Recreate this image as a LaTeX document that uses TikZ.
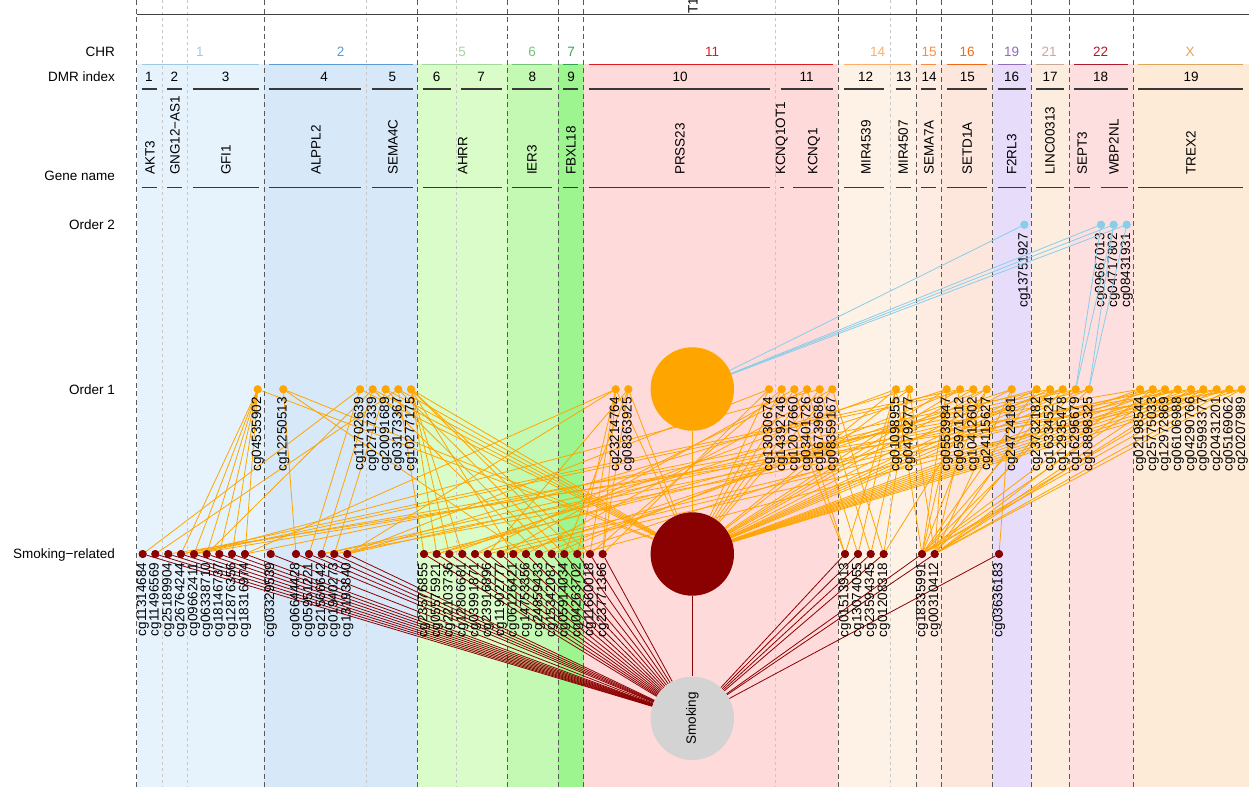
\documentclass[tikz,border=0pt]{standalone}
\usepackage{fontspec}
\setmainfont{Liberation Sans}
\definecolor{orgc}{HTML}{FFA500}
\definecolor{drk}{HTML}{8B0000}
\definecolor{skyc}{HTML}{87CEEB}
\definecolor{smk}{HTML}{D3D3D3}
\definecolor{b1}{HTML}{E6F3FD}
\definecolor{b2}{HTML}{D7E8F8}
\definecolor{b5}{HTML}{D9FCC9}
\definecolor{b6}{HTML}{C3F9B2}
\definecolor{b7}{HTML}{9DF590}
\definecolor{b11}{HTML}{FFDADA}
\definecolor{b14}{HTML}{FEF1E6}
\definecolor{b15}{HTML}{FEECE2}
\definecolor{b16}{HTML}{FDE7DD}
\definecolor{b19}{HTML}{E7DDFB}
\definecolor{b21}{HTML}{FDEDDF}
\definecolor{b22}{HTML}{FDDFDF}
\definecolor{bX}{HTML}{FDEBD8}
\definecolor{c1}{HTML}{9ECAE1}
\definecolor{c2}{HTML}{5B9BD5}
\definecolor{c5}{HTML}{A1D99B}
\definecolor{c6}{HTML}{74C476}
\definecolor{c7}{HTML}{31A354}
\definecolor{c11}{HTML}{E31A1C}
\definecolor{c14}{HTML}{FDAE6B}
\definecolor{c15}{HTML}{FD8D3C}
\definecolor{c16}{HTML}{F16913}
\definecolor{c19}{HTML}{8E6CC0}
\definecolor{c21}{HTML}{C9A99A}
\definecolor{c22}{HTML}{B2182B}
\definecolor{cX}{HTML}{E0A45A}
\begin{document}
\begin{tikzpicture}[x=1pt,y=-1pt,
  every node/.style={font=\fontsize{13.5}{16}\selectfont, inner sep=0pt},
  darkdash/.style={draw=black!65, line width=0.9pt, dash pattern=on 5pt off 3.5pt},
  lightdash/.style={draw=black!22, line width=0.7pt, dash pattern=on 3pt off 3pt},
  dmrline/.style={draw=black!78, line width=1.4pt},
  o1dot/.style={circle, fill=orgc, minimum size=8pt},
  srdot/.style={circle, fill=drk, minimum size=8pt},
  o2dot/.style={circle, fill=skyc, minimum size=8pt},
  plab/.style={rotate=90, anchor=east},
  glab/.style={rotate=90, anchor=west},
  oedge/.style={draw=orgc, line width=0.8pt},
  redge/.style={draw=drk, line width=0.8pt},
  bedge/.style={draw=skyc, line width=0.8pt},
  hub/.style={circle, minimum size=83.4pt}]
\useasboundingbox (0,0) rectangle (1249,787);
\fill[white] (0,0) rectangle (1249,787);
% chromosome bands
\foreach \xa/\xb/\c in {136.7/264.3/b1,264.3/417.3/b2,417.3/507/b5,507/558/b6,558/583.7/b7,583.7/838.3/b11,838.3/916/b14,916/941/b15,941/992.7/b16,992.7/1031/b19,1031/1069.3/b21,1069.3/1133.3/b22,1133.3/1249/bX}
  \fill[\c] (\xa,64) rectangle (\xb,787);
% grid lines
\foreach \x in {162.7,187.7,366.7,456,775.7,890.7}
  \draw[lightdash] (\x,0) -- (\x,787);
\foreach \x in {136.7,264.3,417.3,507,558,583.7,838.3,916,941,992.7,1031,1069.3,1133.3}
  \draw[darkdash] (\x,0) -- (\x,787);
\draw[draw=black!75, line width=1.3pt] (136.7,14.7) -- (1249,14.7);
\node[rotate=90] (toplab) at (693,5.5) {T1};
% row labels
\node[anchor=base east] (rchr) at (115,56.8) {CHR};
\node[anchor=base east] (rdmr) at (115,81.8) {DMR index};
\node[anchor=base east] (rgene) at (115,180.8) {Gene name};
\node[anchor=base east] (ro2) at (115,229.8) {Order 2};
\node[anchor=base east] (ro1) at (115,394.8) {Order 1};
\node[anchor=base east] (rsr) at (115,558.8) {Smoking−related};
% CHR labels
\foreach \x/\t/\c/\xa/\xb in {200/1/c1/141.7/258.7,340.7/2/c2/269/412.7,462/5/c5/421.7/501.7,532/6/c6/511.7/552,571/7/c7/563/578,712/11/c11/589/833,877.7/14/c14/844/911,929/15/c15/921/936,967/16/c16/946.7/987,1011.7/19/c19/997.7/1026,1049/21/c21/1036/1064,1100.7/22/c22/1074/1127.7,1190/X/cX/1138/1242.7}{
  \node[anchor=base, text=\c] at (\x,56.8) {\t};
  \draw[draw=\c, line width=1pt] (\xa,64) -- (\xb,64);
}
% DMR index
\foreach \x/\n in {149/1,174.3/2,225.7/3,324/4,392.3/5,436.7/6,481/7,532.3/8,571/9,680/10,806.7/11,865.7/12,903.7/13,929/14,967.3/15,1011.7/16,1050/17,1100.7/18,1191/19}
  \node[anchor=base] at (\x,81.8) {\n};
\foreach \xa/\xb in {141.7/156.7,167.3/182,192.7/258.7,269/361,371.7/412.7,422.7/450.7,461/501.7,511.7/552,563.3/578.3,589/770,780.7/833,844/884.3,895.7/911,921/936,946.7/987,997.7/1026,1036/1064,1074/1127.7,1138/1242.7}
  \draw[dmrline] (\xa,89) -- (\xb,89);
% gene names
\foreach \x/\g in {150/AKT3,175/GNG12−AS1,226/GFI1,316/ALPPL2,393/SEMA4C,462.7/AHRR,532/IER3,571/FBXL18,680/PRSS23,781.7/KCNQ1OT1,814/KCNQ1,866/MIR4539,903.3/MIR4507,929/SEMA7A,967.3/SETD1A,1011.7/F2RL3,1050/LINC00313,1082.3/SEPT3,1114/WBP2NL,1191/TREX2}
  \node[glab] at (\x,175) {\g};
\foreach \xa/\xb in {141.7/156.7,167.3/182,192.7/258.7,269/361,371.7/412.7,422.7/501.7,511.7/552,563.3/578.3,589/770,780/783.5,793.3/833,844/884.3,895.7/911,921/936,946.7/987,997.7/1026,1036/1064,1074/1090,1100.7/1127.7,1138/1242.7}
  \draw[dmrline] (\xa,187.7) -- (\xb,187.7);
% hubs (coordinates first)
\node[hub] (H1) at (692.3,389) {};
\node[hub] (H2) at (692.3,554) {};
\node[hub] (SM) at (692.3,718.3) {};
% order 2 nodes
\foreach \n/\x/\l in {O1/1024.3/cg13751927,O2/1101/cg09667013,O3/1113.7/cg04717802,O4/1126.7/cg08431931}{
  \node[o2dot] (\n) at (\x,224.7) {};
  \node[plab] (\n t) at (\x,233) {\l};
}
% order 1 nodes
\foreach \n/\x/\l in {L1/257.7/cg04535902,L2/283.3/cg12250513,L3/360/cg11702639,L4/372.7/cg02717339,L5/385.7/cg20091689,L6/398.3/cg03173367,L7/411/cg10277175,M1/615.7/cg23214764,M2/628.3/cg08363925,R1/769/cg13030674,R2/781.7/cg14392746,R3/794.3/cg12077660,R4/807/cg03401726,R5/819.7/cg16739686,R6/832.3/cg08359167,S1/896/cg01098955,S2/909.3/cg04792777,S3/946.7/cg05539847,S4/960/cg05971212,S5/973.3/cg10412602,S6/986.7/cg24115627,S7/1011.7/cg24724181,S8/1036.7/cg23732182,S9/1050/cg16334524,S10/1062.7/cg12935478,S11/1075.7/cg16296679,S12/1089/cg18898325,T1/1140/cg02198544,T2/1152.7/cg25775033,T3/1165/cg12972869,T4/1177.7/cg06106988,T5/1191/cg04290766,T6/1203.3/cg05993377,T7/1216.7/cg20431201,T8/1229.3/cg05169062,T9/1241.7/cg20207989}{
  \node[o1dot] (\n) at (\x,389.3) {};
}
% smoking-related nodes
\foreach \n/\x/\l in {A1/142.7/cg11314684,A2/155.3/cg11496569,A3/168.3/cg25189904,A4/181/cg26764244,A5/194/cg09662411,A6/206.7/cg06338710,A7/219.3/cg18146737,A8/232/cg12876356,A9/245/cg18316974,B1/270.7/cg03329539,B2/296/cg06644428,B3/309/cg05951221,B4/321.7/cg21566642,B5/334.3/cg01940273,B6/347.3/cg13193840,C1/424/cg23576855,C2/436.7/cg05575921,C3/449.3/cg22103736,C4/462.3/cg12806681,C5/475/cg03991871,C6/487.7/cg23916896,C7/500.7/cg11902777,C8/513.3/cg06126421,C9/526/cg14753356,C10/539/cg24859433,C11/551.7/cg15342087,C12/564.3/cg05914034,C13/577.3/cg04263702,C14/590/cg11660018,C15/602.7/cg23771366,D1/845/cg01513913,D2/858/cg13074055,D3/870.7/cg23594345,D4/883.7/cg01208318,E1/922/cg18335991,E2/934.7/cg00310412,F1/999/cg03636183}{
  \node[srdot] (\n) at (\x,554) {};
}
% edges: smoking-related -> Smoking
\foreach \n in {A1,A2,A3,A4,A5,A6,A7,A8,A9,B1,B2,B3,B4,B5,B6,C1,C2,C3,C4,C5,C6,C7,C8,C9,C10,C11,C12,C13,C14,C15,D1,D2,D3,D4,E1,E2,F1}
  \draw[redge] (\n) -- (SM);
% edges: order 1 -> hub and smoking-related
\foreach \n in {L1,L2,L3,L4,L5,L6,L7,M1,M2,R1,R2,R3,R4,R5,R6,S1,S2,S3,S4,S5,S6,S7,S8,S9,S10,S11,S12,T1,T2,T3,T4,T5,T6,T7,T8,T9}
  \draw[oedge] (\n) -- (H2);
\foreach \a/\b in {L1/A4,L1/A5,L1/A6,L1/A7,L1/A8,L1/A9,L2/B2,L2/C9,L3/A1,L3/B3,L4/A6,L4/B4,L4/C10,L5/B5,L5/C11,L6/A2,L6/C1,L6/C12,L7/C2,L7/C3,L7/C4,L7/C8,L7/C13,L7/C14,M1/C13,M1/C14,M1/C15,M1/A9,M1/B6,M2/C15,M2/C12,M2/C6,R1/C15,R1/B6,R2/C14,R2/D1,R3/D1,R3/C7,R4/D2,R4/C5,R5/D3,R5/A5,R6/D4,R6/C9,S1/D1,S1/D2,S1/E1,S1/C3,S2/D3,S2/D4,S2/E2,S2/B6,S3/E1,S3/E2,S3/C2,S4/E1,S4/C11,S4/A4,S5/E2,S5/A5,S6/E1,S6/D4,S6/C10,S7/F1,S7/C8,S7/E2,S8/E1,S8/C2,S9/E2,S9/A9,S10/E1,S10/C12,S10/B4,S11/E2,S11/B6,S12/E1,S12/C1,T1/E1,T1/A4,T2/E2,T2/C5,T3/E1,T3/B4,T4/E2,T4/C6,T5/E2,T5/A5,T6/E1,T6/C13,T7/E1,T7/B5,T8/E2,T8/C7,T9/E2,T9/A3}
  \draw[oedge] (\a) -- (\b);
% edges: order 2
\foreach \n in {O1,O2,O3,O4}
  \draw[bedge] (\n) -- (H1);
\foreach \a/\b in {O2/S11,O3/S11,O3/S12,O4/S12}
  \draw[bedge] (\a) -- (\b);
% hub chain
\draw[oedge] (H1) -- (H2);
\draw[redge] (H2) -- (SM);
% redraw dots on top and labels
\foreach \n/\x/\l in {L1/257.7/cg04535902,L2/283.3/cg12250513,L3/360/cg11702639,L4/372.7/cg02717339,L5/385.7/cg20091689,L6/398.3/cg03173367,L7/411/cg10277175,M1/615.7/cg23214764,M2/628.3/cg08363925,R1/769/cg13030674,R2/781.7/cg14392746,R3/794.3/cg12077660,R4/807/cg03401726,R5/819.7/cg16739686,R6/832.3/cg08359167,S1/896/cg01098955,S2/909.3/cg04792777,S3/946.7/cg05539847,S4/960/cg05971212,S5/973.3/cg10412602,S6/986.7/cg24115627,S7/1011.7/cg24724181,S8/1036.7/cg23732182,S9/1050/cg16334524,S10/1062.7/cg12935478,S11/1075.7/cg16296679,S12/1089/cg18898325,T1/1140/cg02198544,T2/1152.7/cg25775033,T3/1165/cg12972869,T4/1177.7/cg06106988,T5/1191/cg04290766,T6/1203.3/cg05993377,T7/1216.7/cg20431201,T8/1229.3/cg05169062,T9/1241.7/cg20207989}{
  \fill[orgc] (\n.center) circle (4pt);
  \node[plab] (\n t) at (\x,397) {\l};
}
\foreach \n/\x/\l in {A1/142.7/cg11314684,A2/155.3/cg11496569,A3/168.3/cg25189904,A4/181/cg26764244,A5/194/cg09662411,A6/206.7/cg06338710,A7/219.3/cg18146737,A8/232/cg12876356,A9/245/cg18316974,B1/270.7/cg03329539,B2/296/cg06644428,B3/309/cg05951221,B4/321.7/cg21566642,B5/334.3/cg01940273,B6/347.3/cg13193840,C1/424/cg23576855,C2/436.7/cg05575921,C3/449.3/cg22103736,C4/462.3/cg12806681,C5/475/cg03991871,C6/487.7/cg23916896,C7/500.7/cg11902777,C8/513.3/cg06126421,C9/526/cg14753356,C10/539/cg24859433,C11/551.7/cg15342087,C12/564.3/cg05914034,C13/577.3/cg04263702,C14/590/cg11660018,C15/602.7/cg23771366,D1/845/cg01513913,D2/858/cg13074055,D3/870.7/cg23594345,D4/883.7/cg01208318,E1/922/cg18335991,E2/934.7/cg00310412,F1/999/cg03636183}{
  \fill[drk] (\n.center) circle (4pt);
  \node[plab] (\n t) at (\x,562.5) {\l};
}
\foreach \n in {O1,O2,O3,O4}
  \fill[skyc] (\n.center) circle (4pt);
% hub circles
\fill[orgc] (H1.center) circle (41.7pt);
\fill[drk] (H2.center) circle (41.7pt);
\fill[smk] (SM.center) circle (41.7pt);
\node[rotate=90] (smt) at (SM.center) {Smoking};
\end{tikzpicture}
\end{document}
